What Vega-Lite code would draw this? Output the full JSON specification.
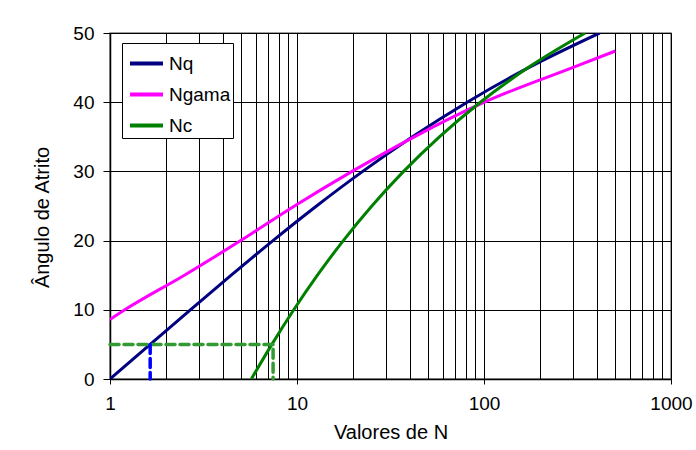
{
  "$schema": "https://vega.github.io/schema/vega-lite/v6.json",
  "width": 561,
  "height": 346,
  "autosize": {"type": "none"},
  "padding": {"left": 110, "top": 33, "right": 25, "bottom": 71},
  "background": "white",
  "config": {
    "font": "Liberation Sans",
    "view": {"stroke": "#808080", "strokeWidth": 1.5},
    "axis": {"labelColor": "black", "titleColor": "black", "titleFontWeight": "normal", "domainColor": "black", "tickColor": "black", "gridColor": "black", "gridOpacity": 1, "gridWidth": 1, "domainWidth": 1.5, "tickWidth": 1}
  },
  "datasets": {
    "curves": [
      {"serie": "Nq", "N": 1.0, "phi": 0},
      {"serie": "Nq", "N": 1.64, "phi": 5},
      {"serie": "Nq", "N": 2.69, "phi": 10},
      {"serie": "Nq", "N": 4.45, "phi": 15},
      {"serie": "Nq", "N": 7.44, "phi": 20},
      {"serie": "Nq", "N": 12.72, "phi": 25},
      {"serie": "Nq", "N": 22.46, "phi": 30},
      {"serie": "Nq", "N": 41.44, "phi": 35},
      {"serie": "Nq", "N": 81.27, "phi": 40},
      {"serie": "Nq", "N": 173.28, "phi": 45},
      {"serie": "Nq", "N": 415.14, "phi": 50},
      {"serie": "Ngama", "N": 1.0, "phi": 8.6},
      {"serie": "Ngama", "N": 1.2, "phi": 10},
      {"serie": "Ngama", "N": 2.5, "phi": 15},
      {"serie": "Ngama", "N": 5.0, "phi": 20},
      {"serie": "Ngama", "N": 9.7, "phi": 25},
      {"serie": "Ngama", "N": 19.7, "phi": 30},
      {"serie": "Ngama", "N": 42.4, "phi": 35},
      {"serie": "Ngama", "N": 100.4, "phi": 40},
      {"serie": "Ngama", "N": 297.5, "phi": 45},
      {"serie": "Ngama", "N": 504, "phi": 47.4},
      {"serie": "Nc", "N": 5.7, "phi": 0},
      {"serie": "Nc", "N": 7.34, "phi": 5},
      {"serie": "Nc", "N": 9.61, "phi": 10},
      {"serie": "Nc", "N": 12.86, "phi": 15},
      {"serie": "Nc", "N": 17.69, "phi": 20},
      {"serie": "Nc", "N": 25.13, "phi": 25},
      {"serie": "Nc", "N": 37.16, "phi": 30},
      {"serie": "Nc", "N": 57.75, "phi": 35},
      {"serie": "Nc", "N": 95.66, "phi": 40},
      {"serie": "Nc", "N": 172.28, "phi": 45},
      {"serie": "Nc", "N": 347.5, "phi": 50}
    ],
    "guides": [
      {"g": "verde", "k": 1, "N": 1.0, "phi": 5},
      {"g": "verde", "k": 2, "N": 7.45, "phi": 5},
      {"g": "verde", "k": 3, "N": 7.45, "phi": 0},
      {"g": "azul", "k": 1, "N": 1.64, "phi": 5},
      {"g": "azul", "k": 2, "N": 1.64, "phi": 0}
    ]
  },
  "layer": [
    {
      "data": {"name": "curves"},
      "mark": {"type": "line", "strokeWidth": 3, "interpolate": "monotone", "clip": true},
      "encoding": {
        "x": {
          "field": "N", "type": "quantitative",
          "scale": {"type": "log", "domain": [1, 1000], "nice": false},
          "axis": {
            "values": [1,2,3,4,5,6,7,8,9,10,20,30,40,50,60,70,80,90,100,200,300,400,500,600,700,800,900,1000],
            "labelExpr": "indexof([1,10,100,1000], datum.value) >= 0 ? datum.value : ''",
            "tickColor": {"condition": {"test": "indexof([1,10,100,1000], datum.value) >= 0", "value": "black"}, "value": "transparent"},
            "tickSize": 5,
            "labelFontSize": 19,
            "labelPadding": 10,
            "labelFlush": false,
            "labelOverlap": false,
            "grid": true,
            "title": "Valores de N",
            "titleFontSize": 20,
            "titlePadding": 9
          }
        },
        "y": {
          "field": "phi", "type": "quantitative",
          "scale": {"domain": [0, 50], "nice": false},
          "axis": {
            "values": [0,5,10,15,20,25,30,35,40,45,50],
            "tickSize": 7,
            "labelFontSize": 19,
            "labelPadding": 9,
            "grid": true,
            "title": "Ângulo de Atrito",
            "titleFontSize": 20,
            "titlePadding": 20,
            "titleY": 184
          }
        },
        "color": {
          "field": "serie", "type": "nominal",
          "scale": {"domain": ["Nq", "Ngama", "Nc"], "range": ["#000080", "#FF00FF", "#008000"]},
          "legend": {
            "orient": "none", "legendX": 12, "legendY": 10,
            "title": null,
            "strokeColor": "black", "fillColor": "white",
            "padding": 2,
            "symbolType": "stroke", "symbolSize": 1089, "symbolStrokeWidth": 4,
            "symbolOffset": 4,
            "labelFontSize": 19, "labelColor": "black", "labelOffset": 4,
            "rowPadding": 2
          }
        }
      }
    },
    {
      "data": {"name": "guides"},
      "mark": {"type": "line", "strokeWidth": 3.5, "strokeDash": [9, 5], "strokeCap": "round"},
      "encoding": {
        "x": {"field": "N", "type": "quantitative"},
        "y": {"field": "phi", "type": "quantitative"},
        "detail": {"field": "g"},
        "order": {"field": "k"},
        "color": {"field": "g", "type": "nominal", "scale": {"domain": ["verde", "azul"], "range": ["#339933", "#0000FF"]}, "legend": null}
      }
    }
  ],
  "resolve": {"scale": {"color": "independent"}}
}
